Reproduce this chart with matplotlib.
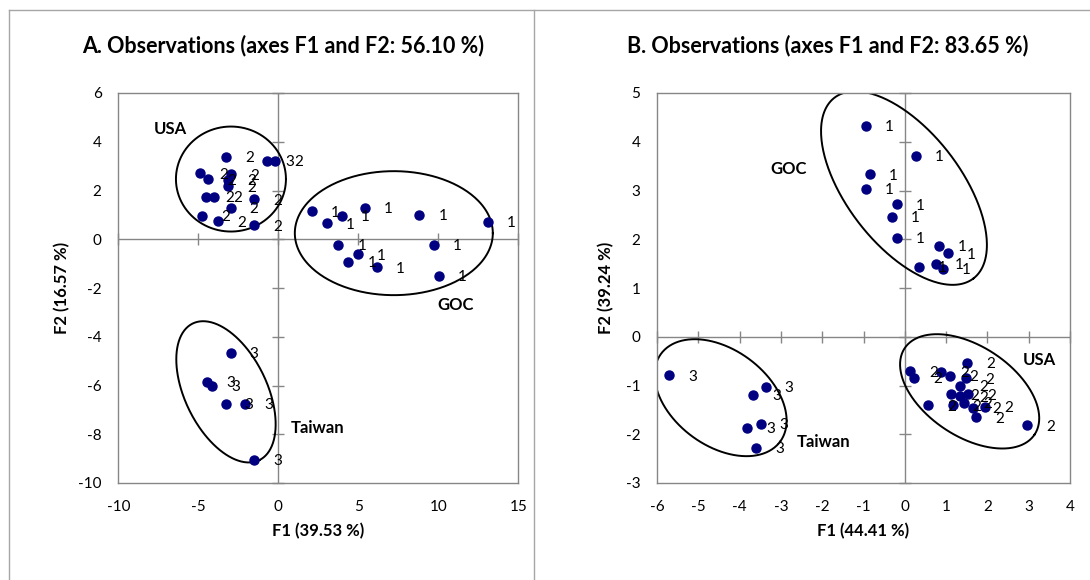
import numpy as np
import matplotlib.pyplot as plt
from matplotlib.lines import Line2D

plt.rcParams['font.family'] = ['Lato', 'DejaVu Sans']

# panel A: observations on F1/F2
a_x = [-3.29, -0.73, -0.21, -4.89, -4.37, -2.96, -3.16, -3.16, -4.52, -4.00,
       -1.50, -2.98, -4.77, -3.75, -1.52,
       2.09, 3.03, 3.96, 5.42, 8.81, 13.09, 3.75, 9.71, 4.98, 4.38, 6.17, 10.03,
       -2.98, -4.44, -4.13, -3.29, -2.08, -1.50]
a_y = [3.39, 3.22, 3.22, 2.70, 2.46, 2.67, 2.43, 2.18, 1.75, 1.75,
       1.64, 1.30, 0.95, 0.74, 0.57,
       1.15, 0.66, 0.97, 1.28, 1.00, 0.72, -0.22, -0.22, -0.61, -0.92, -1.15, -1.50,
       -4.65, -5.85, -6.00, -6.74, -6.76, -9.06]
a_lab = ['2', '3', '2', '2', '2', '2', '2', '2', '2', '2', '2', '2', '2', '2', '2',
         '1', '1', '1', '1', '1', '1', '1', '1', '1', '1', '1', '1',
         '3', '3', '3', '3', '3', '3']

# panel B
b_x = [1.51, 0.12, 0.22, 0.87, 1.09, 1.49, 1.33, 1.13, 1.33, 1.53, 0.56, 1.17,
       1.43, 1.65, 1.94, 1.72, 2.95,
       -0.94, 0.27, -0.85, -0.94, -0.19, -0.32, -0.20, 0.82, 1.04, 0.34, 0.75, 0.92,
       -5.71, -3.37, -3.67, -3.49, -3.82, -3.60]
b_y = [-0.53, -0.71, -0.84, -0.72, -0.80, -0.85, -1.01, -1.18, -1.22, -1.18, -1.41, -1.41,
       -1.35, -1.46, -1.44, -1.65, -1.82,
       4.33, 3.71, 3.33, 3.03, 2.72, 2.46, 2.03, 1.86, 1.71, 1.44, 1.50, 1.40,
       -0.79, -1.03, -1.19, -1.79, -1.87, -2.28]
b_lab = ['2'] * 17 + ['1'] * 12 + ['3'] * 6

# group ellipses: centre (data), semi axes (px), angle (deg)
a_ell = [(-2.96, 2.47, 55, 52.5, 0), (7.22, 0.25, 99, 62, 0), (-3.27, -6.26, 76, 41, -64)]
b_ell = [(-0.02, 3.05, 114, 57, -52.4), (1.57, -1.12, 78, 45, -33.6), (-4.46, -1.25, 74, 48, -36.4)]

W, H = 1090, 580
fig = plt.figure(figsize=(W / 100, H / 100), dpi=100)
gray = '#868686'


def draw_panel(rect, xs, ys, labs, xlim, ylim, xstep, ystep, ells, groups):
    ax = fig.add_axes(rect)
    ax.set_xlim(xlim)
    ax.set_ylim(ylim)
    xt = np.arange(xlim[0], xlim[1] + 0.001, xstep)
    yt = np.arange(ylim[0], ylim[1] + 0.001, ystep)
    ax.set_xticks(xt)
    ax.set_yticks(yt)
    ax.set_xticklabels(['%g' % v for v in xt])
    ax.set_yticklabels(['%g' % v for v in yt])
    ax.tick_params(length=0, labelsize=11, pad=12)
    for s in ax.spines.values():
        s.set_color(gray)
        s.set_linewidth(1)
    ax.axhline(0, color=gray, lw=1, zorder=1)
    ax.axvline(0, color=gray, lw=1, zorder=1)
    ax.plot(np.zeros(len(yt)), yt, ls='none', marker='_', ms=9, mew=1, color=gray, clip_on=False)
    ax.plot(xt, np.zeros(len(xt)), ls='none', marker='|', ms=9, mew=1, color=gray, clip_on=False)
    ax.plot(xs, ys, 'o', color='#000080', ms=6.5, zorder=3)
    for x, y, t in zip(xs, ys, labs):
        ax.annotate(t, (x, y), xytext=(17, -1), textcoords='offset points',
                    ha='center', va='center', fontsize=11, zorder=4)
    # ellipses drawn in pixel space then mapped back to data
    sx = rect[2] * W / (xlim[1] - xlim[0])
    sy = rect[3] * H / (ylim[1] - ylim[0])
    t = np.linspace(0, 2 * np.pi, 300)
    for cx, cy, a, b, ang in ells:
        th = np.radians(ang)
        px = a * np.cos(t) * np.cos(th) - b * np.sin(t) * np.sin(th)
        py = a * np.cos(t) * np.sin(th) + b * np.sin(t) * np.cos(th)
        ax.plot(cx + px / sx, cy + py / sy, color='black', lw=1.4, zorder=2)
    for name, gx, gy in groups:
        fig.text(gx / W, 1 - gy / H, name, fontsize=12, fontweight='bold', va='center')
    return ax


axA = draw_panel([118.3 / W, 1 - 483 / H, 400 / W, 390 / H], a_x, a_y, a_lab,
                 (-10, 15), (-10, 6), 5, 2, a_ell,
                 [('USA', 154, 129), ('GOC', 437, 305), ('Taiwan', 291, 428)])
axB = draw_panel([657 / W, 1 - 483 / H, 413 / W, 390 / H], b_x, b_y, b_lab,
                 (-6, 4), (-3, 5), 1, 1, b_ell,
                 [('GOC', 770, 169), ('USA', 1023, 360), ('Taiwan', 797, 442)])

fig.text(283 / W, 1 - 46 / H, 'A. Observations (axes F1 and F2: 56.10 %)',
         ha='center', va='center', fontsize=15.5, fontweight='bold')
fig.text(828 / W, 1 - 46 / H, 'B. Observations (axes F1 and F2: 83.65 %)',
         ha='center', va='center', fontsize=15.5, fontweight='bold')
fig.text(318 / W, 1 - 531 / H, 'F1 (39.53 %)', ha='center', va='center',
         fontsize=12, fontweight='bold')
fig.text(863 / W, 1 - 531 / H, 'F1 (44.41 %)', ha='center', va='center',
         fontsize=12, fontweight='bold')
fig.text(62 / W, 1 - 288 / H, 'F2 (16.57 %)', ha='center', va='center',
         rotation=90, fontsize=12, fontweight='bold')
fig.text(606 / W, 1 - 288 / H, 'F2 (39.24 %)', ha='center', va='center',
         rotation=90, fontsize=12, fontweight='bold')

# outer frame
fc = '#a6a6a6'
fig.add_artist(Line2D([9 / W, 9 / W], [0, 1 - 10 / H], color=fc, lw=1))
fig.add_artist(Line2D([9 / W, 1], [1 - 10 / H, 1 - 10 / H], color=fc, lw=1))
fig.add_artist(Line2D([534 / W, 534 / W], [0, 1 - 10 / H], color=fc, lw=1))

fig.savefig('out.png', dpi=100)
